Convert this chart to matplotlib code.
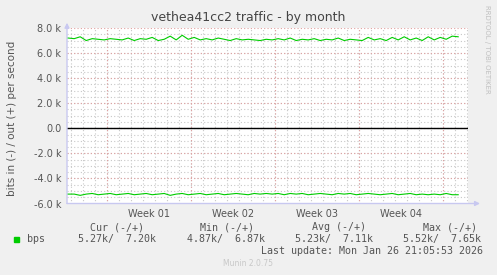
import numpy as np
import matplotlib.pyplot as plt

# traffic in k bits/s, one sample every half day
out_bps = [7.20, 7.15, 7.30, 7.00, 7.15, 7.10, 7.05, 7.15, 7.10, 7.05,
           7.20, 7.00, 7.15, 7.10, 7.25, 7.00, 7.10, 7.35, 7.05, 7.42,
           7.10, 7.25, 7.05, 7.15, 7.05, 7.20, 7.10, 7.00, 7.15, 7.05,
           7.10, 7.05, 7.00, 7.10, 7.05, 7.15, 7.05, 7.20, 7.00, 7.10,
           7.05, 7.15, 7.00, 7.10, 7.05, 7.20, 7.00, 7.10, 7.05, 7.00,
           7.25, 7.05, 7.15, 7.00, 7.25, 7.05, 7.30, 7.05, 7.20, 7.00,
           7.30, 7.05, 7.25, 7.10, 7.35, 7.30]
in_bps = [5.25, 5.25, 5.35, 5.25, 5.20, 5.30, 5.25, 5.20, 5.30, 5.25,
          5.20, 5.30, 5.25, 5.20, 5.30, 5.25, 5.20, 5.35, 5.25, 5.20,
          5.30, 5.25, 5.20, 5.30, 5.25, 5.20, 5.30, 5.25, 5.20, 5.25,
          5.30, 5.20, 5.25, 5.20, 5.25, 5.20, 5.30, 5.20, 5.25, 5.20,
          5.30, 5.25, 5.20, 5.25, 5.30, 5.20, 5.25, 5.20, 5.30, 5.25,
          5.20, 5.25, 5.30, 5.25, 5.20, 5.30, 5.25, 5.20, 5.30, 5.25,
          5.30, 5.25, 5.30, 5.20, 5.30, 5.30]
days = np.arange(len(out_bps)) * 0.5 + 0.1

week_starts = [3.33, 10.33, 17.33, 24.33, 31.33]
week_labels = ['Week 01', 'Week 02', 'Week 03', 'Week 04']
y_ticks = [-6000, -4000, -2000, 0, 2000, 4000, 6000, 8000]
y_labels = ['-6.0 k', '-4.0 k', '-2.0 k', '0.0', '2.0 k', '4.0 k', '6.0 k', '8.0 k']

legend_cols = ['Cur (-/+)', 'Min (-/+)', 'Avg (-/+)', 'Max (-/+)']
legend_vals = ['5.27k/  7.20k', '4.87k/  6.87k', '5.23k/  7.11k', '5.52k/  7.65k']

W, H = 497, 275
bg = '#f0f0f0'
txt = '#555555'
fig = plt.figure(figsize=(W / 100, H / 100), dpi=100, facecolor=bg)
ax = fig.add_axes([67 / W, 1 - 203.5 / H, 401 / W, 175.5 / H])
ax.set_facecolor('white')
ax.set_xlim(0, 401 / 12)
ax.set_ylim(-6000, 8000)

# grid: minor gray, major red, all dotted
for d in np.arange(0.33, 33.4, 1.0):
    ax.axvline(d, color='#c8c8c8', lw=0.8, ls=(0, (1, 2)), zorder=1)
for v in np.arange(-5500, 8000, 500):
    ax.axhline(v, color='#c8c8c8', lw=0.8, ls=(0, (1, 2)), zorder=1)
for d in week_starts:
    ax.axvline(d, color='#e0a0a0', lw=0.8, ls=(0, (1, 2)), zorder=2)
for v in y_ticks:
    ax.axhline(v, color='#e0a0a0', lw=0.8, ls=(0, (1, 2)), zorder=2)

ax.axhline(0, color='black', lw=1.0, zorder=3)
ax.plot(days, np.array(out_bps) * 1000, color='#00cc00', lw=0.8, zorder=4)
ax.plot(days, -np.array(in_bps) * 1000, color='#00cc00', lw=0.8, zorder=4)

for s in ax.spines.values():
    s.set_visible(False)
ax.set_yticks(y_ticks)
ax.set_yticklabels(y_labels, color=txt, fontsize=7)
ax.set_xticks([d + 3.5 for d in week_starts[:4]])
ax.set_xticklabels(week_labels, color=txt, fontsize=7)
ax.tick_params(length=0, pad=4)

# axis lines with arrows
ax.annotate('', xy=(0, 1.03), xytext=(0, 0), xycoords='axes fraction',
            arrowprops=dict(arrowstyle='-|>', color='#c8c8f0', lw=1.0,
                            mutation_scale=7, shrinkA=0, shrinkB=0),
            annotation_clip=False)
ax.annotate('', xy=(1.03, 0), xytext=(0, 0), xycoords='axes fraction',
            arrowprops=dict(arrowstyle='-|>', color='#c8c8f0', lw=1.0,
                            mutation_scale=7, shrinkA=0, shrinkB=0),
            annotation_clip=False)

fig.text(248 / W, 1 - 18 / H, 'vethea41cc2 traffic - by month',
         ha='center', va='center', fontsize=9, color='#444444')
fig.text(12 / W, 1 - 118 / H, 'bits in (-) / out (+) per second',
         ha='center', va='center', rotation=90, fontsize=7.5, color=txt)
fig.text(487 / W, 1 - 5 / H, 'RRDTOOL / TOBI OETIKER', ha='center', va='top',
         rotation=270, fontsize=5, color='#c0c0c0')

mono = 'DejaVu Sans Mono'
head_x = [90, 200, 312, 423]
val_x = [78, 187, 295, 403]
for x, t in zip(head_x, legend_cols):
    fig.text(x / W, 1 - 227 / H, t, ha='left', va='center', family=mono,
             fontsize=7.2, color=txt)
for x, t in zip(val_x, legend_vals):
    fig.text(x / W, 1 - 239 / H, t, ha='left', va='center', family=mono,
             fontsize=7.2, color=txt)
fig.patches.append(plt.Rectangle((14 / W, 1 - 242 / H), 5 / W, 5 / H,
                                 transform=fig.transFigure, color='#00cc00'))
fig.text(27 / W, 1 - 239 / H, 'bps', ha='left', va='center', family=mono,
         fontsize=7.2, color=txt)
fig.text(483 / W, 1 - 251 / H, 'Last update: Mon Jan 26 21:05:53 2026',
         ha='right', va='center', family=mono, fontsize=7.2, color=txt)
fig.text(248 / W, 1 - 264 / H, 'Munin 2.0.75', ha='center', va='center',
         fontsize=5.5, color='#c8c8c8')

fig.savefig('out.png', dpi=100, facecolor=bg)
